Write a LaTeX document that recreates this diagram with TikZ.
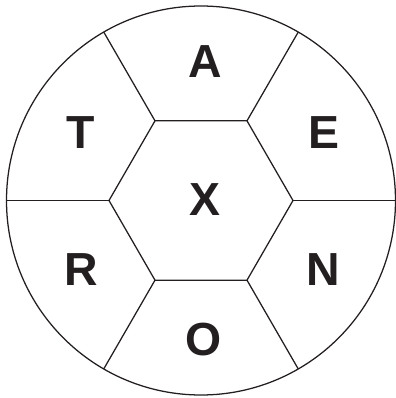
\documentclass[tikz,border=0pt]{standalone}
\usepackage{fontspec}
\setmainfont{Liberation Sans}
\usetikzlibrary{calc}
\definecolor{ink}{RGB}{35,31,32}

\begin{document}
\begin{tikzpicture}[line width=0.9pt, draw=ink,
    letter/.style={text=ink, inner sep=0pt, font=\fontsize{33}{33}\selectfont\bfseries}]
    \useasboundingbox (-5.025,-4.9375) rectangle (4.875,5.0125);
    % outer ring
    \draw[ink] (0,0) circle (4.8625);
    % hexagon and spokes
    \foreach \a in {0,60,...,300} {
        \coordinate (h\a) at (\a:2.3);
        \coordinate (c\a) at (\a:4.8625);
        \draw[ink] (h\a) -- (c\a);
    }
    \draw[ink] (h0) -- (h60) -- (h120) -- (h180) -- (h240) -- (h300) -- cycle;
    % letters
    \foreach \x/\y/\t in {0.1/0.025/X, 0.1125/3.4625/A, 3.075/1.7/E, 3.05/-1.725/N,
                          0.075/-3.4875/O, -3/-1.725/R, -3/1.6875/T}
        \node[letter] (l\t) at (\x,\y) {\t};
\end{tikzpicture}
\end{document}
